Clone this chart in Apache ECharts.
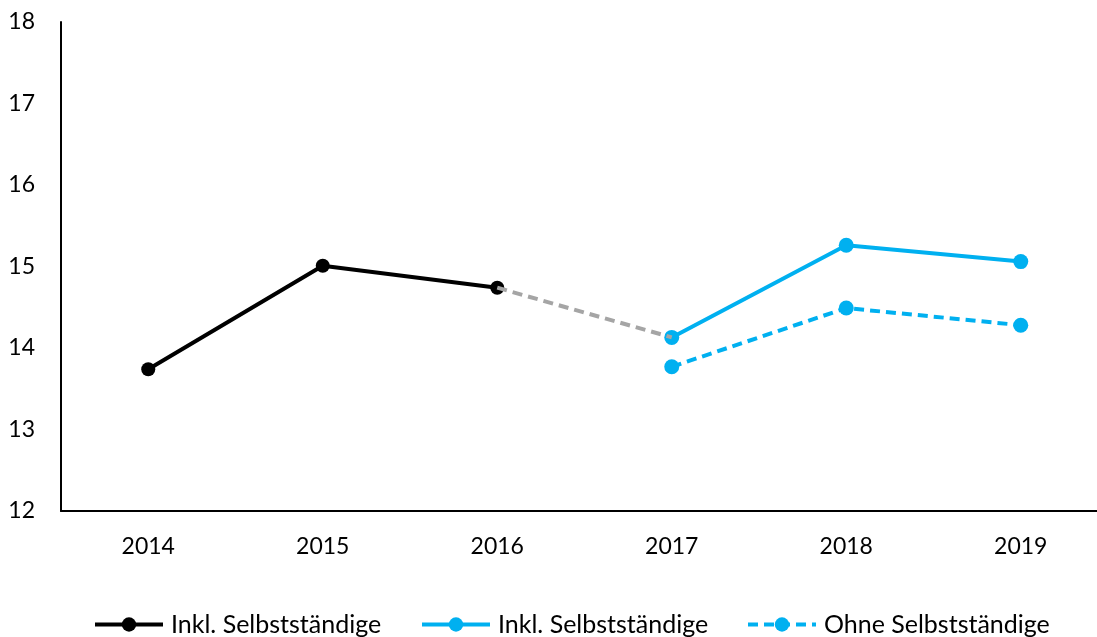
<!DOCTYPE html>
<html>
<head>
<meta charset="utf-8">
<script src="https://cdn.jsdelivr.net/npm/echarts@6/dist/echarts.min.js"></script>
<style>
  html, body { margin: 0; padding: 0; background: #fff; overflow: hidden; }
  /* the plot runs a little past the right edge of the window */
  #chart { width: 1108px; height: 637px; }
</style>
</head>
<body>
<div id="chart"></div>
<script>
// Years on the x axis
const years = ['2014', '2015', '2016', '2017', '2018', '2019'];

// Y axis range and tick step
const yMin = 12;
const yMax = 18;
const yStep = 1;

// Including self-employed, old method (2014–2016)
const inklAlt = [13.74, 15.01, 14.74, null, null, null];
// Bridge between the two methods (2016–2017)
const uebergang = [null, null, 14.74, 14.13, null, null];
// Including self-employed, new method (2017–2019)
const inklNeu = [null, null, null, 14.13, 15.26, 15.06];
// Excluding self-employed (2017–2019)
const ohne = [null, null, null, 13.77, 14.49, 14.28];

// Legend texts
const labelInkl = 'Inkl. Selbstständige';
const labelOhne = 'Ohne Selbstständige';

const BLUE = '#00B0F0';
const FONT = 'Lato';

const chart = echarts.init(document.getElementById('chart'), null, { renderer: 'canvas' });

function legendAt(left, seriesName, text) {
  return {
    data: [seriesName],
    left: left,
    top: 612,
    padding: 0,
    itemWidth: 68,
    itemHeight: 18,
    itemGap: 0,
    formatter: () => text,
    lineStyle: { width: 4 },
    textStyle: { fontFamily: FONT, fontSize: 25, color: '#000', padding: [0, 0, 0, 3] },
    selectedMode: false
  };
}

chart.setOption({
  animation: false,
  backgroundColor: '#fff',
  textStyle: { fontFamily: FONT },
  grid: { left: 61, top: 22, width: 1047, height: 489, containLabel: false },
  legend: [
    legendAt(93, 'inklAlt', labelInkl),
    legendAt(420, 'inklNeu', labelInkl),
    legendAt(746, 'ohne', labelOhne)
  ],
  xAxis: {
    type: 'category',
    data: years,
    boundaryGap: true,
    axisLine: { lineStyle: { color: '#000', width: 2 } },
    axisTick: { show: false },
    axisLabel: { fontFamily: FONT, fontSize: 23, color: '#000', margin: 24 },
    splitLine: { show: false }
  },
  yAxis: {
    type: 'value',
    min: yMin,
    max: yMax,
    interval: yStep,
    axisLine: { show: true, lineStyle: { color: '#000', width: 2 } },
    axisTick: { show: false },
    axisLabel: { fontFamily: FONT, fontSize: 23, color: '#000', margin: 26 },
    splitLine: { show: false }
  },
  series: [
    {
      name: 'inklAlt',
      type: 'line',
      data: inklAlt,
      symbol: 'circle',
      symbolSize: 14,
      lineStyle: { color: '#000', width: 4 },
      itemStyle: { color: '#000' },
      z: 2
    },
    {
      name: 'inklNeu',
      type: 'line',
      data: inklNeu,
      symbol: 'circle',
      symbolSize: 15,
      lineStyle: { color: BLUE, width: 4 },
      itemStyle: { color: BLUE },
      z: 2
    },
    {
      name: 'ohne',
      type: 'line',
      data: ohne,
      symbol: 'circle',
      symbolSize: 15,
      lineStyle: { color: BLUE, width: 4, type: [10, 6] },
      itemStyle: { color: BLUE },
      z: 2
    },
    {
      name: 'uebergang',
      type: 'line',
      data: uebergang,
      showSymbol: false,
      symbol: 'none',
      lineStyle: { color: '#A5A5A5', width: 4, type: [10, 6] },
      itemStyle: { color: '#A5A5A5' },
      z: 3
    }
  ]
});
</script>
</body>
</html>
